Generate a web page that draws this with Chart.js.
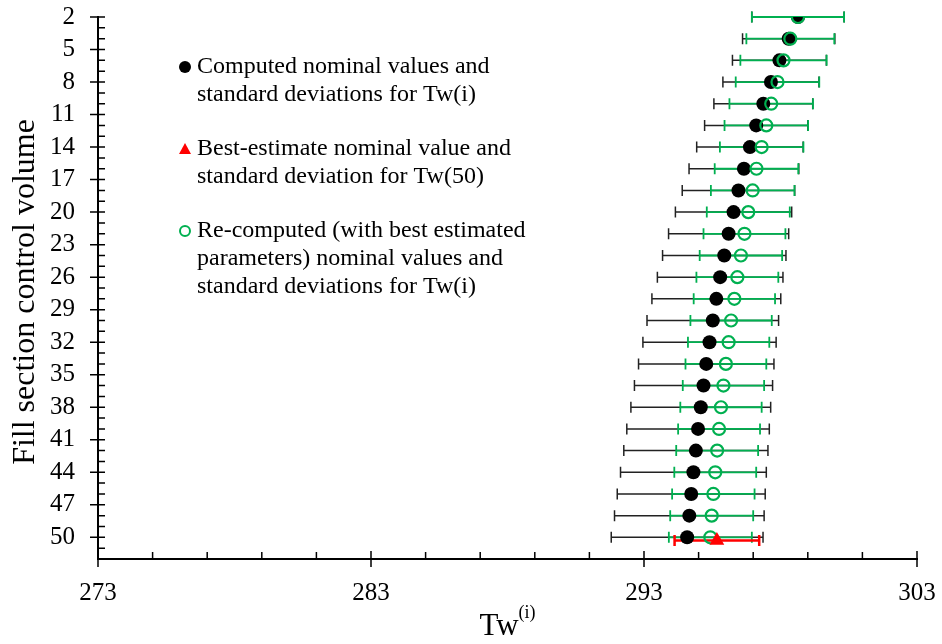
<!DOCTYPE html>
<html>
<head>
<meta charset="utf-8">
<script src="https://cdn.jsdelivr.net/npm/chart.js@4.4.1/dist/chart.umd.min.js"></script>
<style>
    html, body { margin: 0; padding: 0; background: #fff; }
    #wrap { width: 942px; height: 644px; position: relative; }
</style>
</head>
<body>
<div id="wrap"><canvas id="chart" width="942" height="644"></canvas></div>
<script>
// ============================================
// DATA
// ============================================

const volumes = [2, 4, 6, 8, 10, 12, 14, 16, 18, 20, 22, 24, 26, 28, 30, 32, 34, 36, 38, 40, 42, 44, 46, 48, 50];

// Computed nominal values / standard deviations
const computedTw = [298.64, 298.30, 297.96, 297.65, 297.37, 297.11, 296.88, 296.66, 296.46, 296.28, 296.10, 295.94, 295.79, 295.65, 295.52, 295.40, 295.28, 295.18, 295.08, 294.98, 294.90, 294.81, 294.73, 294.66, 294.58];
const computedSd = [1.69, 1.69, 1.72, 1.76, 1.81, 1.89, 1.95, 2.01, 2.06, 2.13, 2.20, 2.26, 2.30, 2.36, 2.41, 2.44, 2.48, 2.53, 2.56, 2.61, 2.64, 2.67, 2.71, 2.74, 2.78];

// Re-computed with best estimated parameters
const recomputedTw = [298.64, 298.36, 298.11, 297.89, 297.66, 297.48, 297.31, 297.12, 296.98, 296.82, 296.68, 296.55, 296.42, 296.31, 296.19, 296.10, 296.00, 295.91, 295.82, 295.75, 295.68, 295.61, 295.54, 295.48, 295.43];
const recomputedSd = [1.69, 1.61, 1.58, 1.53, 1.53, 1.53, 1.53, 1.53, 1.53, 1.52, 1.50, 1.51, 1.50, 1.49, 1.49, 1.49, 1.48, 1.49, 1.49, 1.50, 1.50, 1.50, 1.51, 1.52, 1.52];

// Best estimate for Tw(50)
const bestVolume = [50.3];
const bestTw = [295.67];
const bestSd = [1.55];

const xTickLabels = [273, 283, 293, 303];
const yTickLabels = [2, 5, 8, 11, 14, 17, 20, 23, 26, 29, 32, 35, 38, 41, 44, 47, 50];

const GREEN = '#00b050';
const FONT = "'Liberation Serif', 'Times New Roman', serif";

function toPoints(xs, ys) {
    return xs.map((x, i) => ({ x: x, y: ys[i] }));
}

// ============================================
// PLUGINS
// ============================================

// error bars drawn under the markers
const errorBarPlugin = {
    id: 'errorBars',
    beforeDatasetsDraw(chart) {
        const ctx = chart.ctx;
        const xs = chart.scales.x;
        const ys = chart.scales.y;
        const order = [2, 1, 0]; // black, green, red
        order.forEach(di => {
            const ds = chart.data.datasets[di];
            if (!ds.errSd) return;
            ctx.save();
            ctx.strokeStyle = ds.errColor;
            ctx.lineWidth = ds.errWidth;
            ds.data.forEach((p, i) => {
                const sd = ds.errSd[i];
                const x1 = xs.getPixelForValue(p.x - sd);
                const x2 = xs.getPixelForValue(p.x + sd);
                const y = ys.getPixelForValue(p.y);
                ctx.beginPath();
                ctx.moveTo(x1, y);
                ctx.lineTo(x2, y);
                ctx.moveTo(x1, y - 5.5);
                ctx.lineTo(x1, y + 5.5);
                ctx.moveTo(x2, y - 5.5);
                ctx.lineTo(x2, y + 5.5);
                ctx.stroke();
            });
            ctx.restore();
        });
    }
};

// axis tick marks, titles and the legend block
const decorPlugin = {
    id: 'decor',
    afterDraw(chart) {
        const ctx = chart.ctx;
        const xs = chart.scales.x;
        const ys = chart.scales.y;
        const area = chart.chartArea;

        ctx.save();
        ctx.strokeStyle = '#000';
        ctx.lineWidth = 1.5;
        ctx.beginPath();
        // x ticks
        for (let v = 273; v <= 303; v += 2) {
            const px = xs.getPixelForValue(v);
            if (xTickLabels.includes(v)) {
                ctx.moveTo(px, area.bottom - 8);
                ctx.lineTo(px, area.bottom + 8);
            } else {
                ctx.moveTo(px, area.bottom - 7);
                ctx.lineTo(px, area.bottom);
            }
        }
        // y ticks
        for (let v = 2; v <= 52; v++) {
            const py = ys.getPixelForValue(v);
            if (yTickLabels.includes(v)) {
                ctx.moveTo(area.left - 8, py);
                ctx.lineTo(area.left + 7, py);
            } else {
                ctx.moveTo(area.left, py);
                ctx.lineTo(area.left + 7, py);
            }
        }
        ctx.stroke();

        // axis titles
        ctx.fillStyle = '#000';
        ctx.textAlign = 'center';
        ctx.textBaseline = 'middle';
        ctx.font = '32px ' + FONT;
        ctx.save();
        ctx.translate(26, 292);
        ctx.rotate(-Math.PI / 2);
        ctx.fillText('Fill section control volume', 0, 0);
        ctx.restore();

        ctx.textAlign = 'left';
        ctx.font = '31px ' + FONT;
        const tw = ctx.measureText('Tw').width;
        ctx.font = '18px ' + FONT;
        const sw = ctx.measureText('(i)').width;
        const startX = (area.left + area.right) / 2 - (tw + sw) / 2;
        ctx.font = '31px ' + FONT;
        ctx.fillText('Tw', startX, 627);
        ctx.font = '18px ' + FONT;
        ctx.fillText('(i)', startX + tw, 613);

        // legend
        ctx.font = '24px ' + FONT;
        ctx.textBaseline = 'middle';
        const legendLines = [
            ['Computed nominal values and', 'standard deviations for Tw(i)'],
            ['Best-estimate nominal value and', 'standard deviation for Tw(50)'],
            ['Re-computed (with best estimated', 'parameters) nominal values and', 'standard deviations for Tw(i)']
        ];
        const legendY = [67, 149, 231];
        legendLines.forEach((lines, k) => {
            lines.forEach((txt, j) => {
                ctx.fillText(txt, 197, legendY[k] + j * 28);
            });
        });
        // markers
        ctx.fillStyle = '#000';
        ctx.beginPath();
        ctx.arc(185, 67, 6, 0, Math.PI * 2);
        ctx.fill();
        ctx.fillStyle = '#ff0000';
        ctx.beginPath();
        ctx.moveTo(185, 143);
        ctx.lineTo(191, 154);
        ctx.lineTo(179, 154);
        ctx.closePath();
        ctx.fill();
        ctx.strokeStyle = GREEN;
        ctx.lineWidth = 2;
        ctx.beginPath();
        ctx.arc(185, 231, 5, 0, Math.PI * 2);
        ctx.stroke();
        ctx.restore();
    }
};

// ============================================
// CHART
// ============================================

const ctx = document.getElementById('chart');
const chart = new Chart(ctx, {
    type: 'scatter',
    data: {
        datasets: [
            {
                label: 'Best-estimate',
                data: toPoints(bestTw, bestVolume),
                pointStyle: 'triangle',
                pointRadius: 8.5,
                backgroundColor: '#ff0000',
                borderColor: '#ff0000',
                borderWidth: 0,
                errSd: bestSd,
                errColor: '#ff0000',
                errWidth: 2.5,
                order: 0
            },
            {
                label: 'Re-computed',
                data: toPoints(recomputedTw, volumes),
                pointStyle: 'circle',
                pointRadius: 6,
                backgroundColor: 'rgba(0,0,0,0)',
                borderColor: GREEN,
                borderWidth: 2.2,
                errSd: recomputedSd,
                errColor: GREEN,
                errWidth: 1.8,
                order: 1
            },
            {
                label: 'Computed',
                data: toPoints(computedTw, volumes),
                pointStyle: 'circle',
                pointRadius: 7,
                backgroundColor: '#000',
                borderColor: '#000',
                borderWidth: 0,
                errSd: computedSd,
                errColor: '#222',
                errWidth: 1.5,
                order: 2
            }
        ]
    },
    options: {
        responsive: false,
        animation: false,
        devicePixelRatio: 1,
        layout: { padding: { left: 0, right: 25, top: 17, bottom: 0 } },
        plugins: {
            legend: { display: false },
            tooltip: { enabled: false }
        },
        scales: {
            x: {
                type: 'linear',
                min: 273,
                max: 303,
                afterBuildTicks: scale => { scale.ticks = xTickLabels.map(v => ({ value: v })); },
                afterFit: scale => {
                    scale.height = 85;
                    scale.paddingLeft = 0;
                    scale.paddingRight = 0;
                },
                grid: { display: false, drawTicks: false },
                border: { display: true, color: '#000', width: 2 },
                ticks: {
                    color: '#000',
                    padding: 19,
                    maxRotation: 0,
                    font: { family: FONT, size: 25 }
                }
            },
            y: {
                type: 'linear',
                reverse: true,
                min: 2,
                max: 52,
                afterBuildTicks: scale => { scale.ticks = yTickLabels.map(v => ({ value: v })); },
                afterFit: scale => {
                    scale.width = 98;
                    scale.paddingTop = 0;
                    scale.paddingBottom = 0;
                },
                grid: { display: false, drawTicks: false },
                border: { display: true, color: '#000', width: 2 },
                ticks: {
                    color: '#000',
                    padding: 23,
                    font: { family: FONT, size: 25 }
                }
            }
        }
    },
    plugins: [errorBarPlugin, decorPlugin]
});
</script>
</body>
</html>
